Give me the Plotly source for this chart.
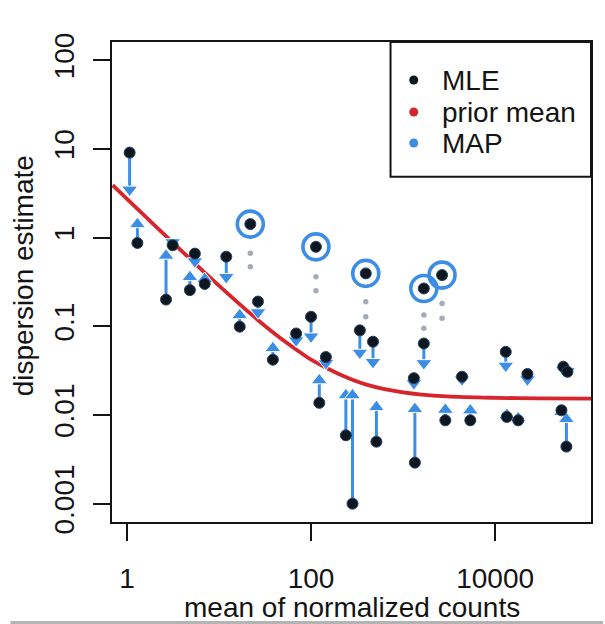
import plotly.graph_objects as go

# ---- gene-wise dispersion data -------------------------------------------
mean_counts = [1.07, 1.30, 3.14, 2.66, 4.83, 5.47, 7.0, 12.0, 16.8, 26.5,
               38.5, 68.9, 100, 123, 145, 239, 282, 339, 471, 513,
               1309, 1343, 1679, 2877, 4365, 5370, 13030, 13390, 17800, 22400,
               55000, 61000, 52500, 59400]
mle = [9.1, 0.87, 0.82, 0.20, 0.256, 0.66, 0.30, 0.61, 0.099, 0.19,
       0.042, 0.083, 0.128, 0.0137, 0.045, 0.0059, 0.001, 0.09, 0.067, 0.005,
       0.026, 0.0029, 0.064, 0.0087, 0.027, 0.0087, 0.0515, 0.0095, 0.0087, 0.029,
       0.035, 0.0307, 0.0113, 0.0044]
map_est = [2.9, 1.7, 0.74, 0.75, 0.43, 0.45, 0.41, 0.30, 0.16, 0.12,
           0.068, 0.058, 0.064, 0.0295, 0.032, 0.02, 0.02, 0.042, 0.033, 0.0147,
           0.019, 0.014, 0.032, 0.0137, 0.021, 0.0135, 0.030, 0.012, 0.011, 0.021,
           0.027, 0.026, 0.013, 0.0108]

# dispersion outliers (kept at their MLE, circled)
out_counts = [21.9, 113, 393, 1679, 2649]
out_mle = [1.42, 0.787, 0.395, 0.267, 0.378]
out_guide_upper = [0.668, 0.361, 0.189, 0.134, 0.181]
out_guide_lower = [0.469, 0.251, 0.128, 0.095, 0.123]

# fitted prior mean trend
trend_x = [0.7, 1, 2, 4, 7, 10, 20, 40, 70, 100, 200, 400, 1000, 3000,
           10000, 30000, 110000]
trend_y = [3.90, 2.74, 1.375, 0.695, 0.404, 0.287, 0.151, 0.083, 0.054, 0.042,
           0.029, 0.022, 0.018, 0.0162, 0.0156, 0.0154, 0.0153]

x_ticks = [1, 100, 10000]
x_ticktext = ["1", "100", "10000"]
y_ticks = [0.001, 0.01, 0.1, 1, 10, 100]
y_ticktext = ["0.001", "0.01", "0.1", "1", "10", "100"]

legend_labels = ["MLE", "prior mean", "MAP"]
x_title = "mean of normalized counts"
y_title = "dispersion estimate"

# ---- styling -------------------------------------------------------------
BLUE = "#3b8de6"
RED = "#d6262b"
DOT = "#0e1620"
INK = "#141414"
FONT = "Liberation Sans, Arial, sans-serif"

W, H = 605, 624
ML, MR, MT, MB = 112, 12, 42, 102
PW, PH = W - ML - MR, H - MT - MB
HEAD = 14  # arrowhead size in px


def px(xp):
    return (xp - ML) / PW


def py(yp):
    return (H - MB - yp) / PH


fig = go.Figure()

# prior mean curve
fig.add_trace(go.Scatter(
    x=trend_x, y=trend_y, mode="lines",
    line=dict(color=RED, width=3.8, shape="spline", smoothing=0.8),
    hoverinfo="skip", showlegend=False))

# shrinkage arrows MLE -> MAP (triangle heads with tips on the MAP value)
ax, ay, sym, size, opac = [], [], [], [], []
for c, a, b in zip(mean_counts, mle, map_est):
    ax += [c, c, None]
    ay += [a, b, None]
    sym += ["circle", "triangle-up", "circle"]
    size += [0, HEAD, 0]
    opac += [0, 1, 0]
fig.add_trace(go.Scatter(
    x=ax, y=ay, mode="lines+markers",
    line=dict(color=BLUE, width=3, backoff=5),
    marker=dict(symbol=sym, size=size, opacity=opac, color=BLUE,
                angleref="previous", standoff=HEAD / 2),
    hoverinfo="skip", showlegend=False, connectgaps=False))

# dotted guides beneath outliers
gx, gy = [], []
for c, u, l in zip(out_counts, out_guide_upper, out_guide_lower):
    gx += [c, c]
    gy += [u, l]
fig.add_trace(go.Scatter(
    x=gx, y=gy, mode="markers",
    marker=dict(color="#a3acb6", size=5.5),
    hoverinfo="skip", showlegend=False))

# outlier rings
fig.add_trace(go.Scatter(
    x=out_counts, y=out_mle, mode="markers",
    marker=dict(symbol="circle-open", size=26, color=BLUE,
                line=dict(width=3.6, color=BLUE)),
    hoverinfo="skip", showlegend=False))

# MLE points
fig.add_trace(go.Scatter(
    x=mean_counts + out_counts, y=mle + out_mle, mode="markers",
    marker=dict(color=DOT, size=11, line=dict(width=1, color="#23405f")),
    hoverinfo="skip", showlegend=False))

# ---- legend box ----------------------------------------------------------
shapes = [dict(type="rect", xref="paper", yref="paper",
               x0=px(391.7), x1=1, y0=py(176.7), y1=1,
               fillcolor="white", line=dict(color=INK, width=2), layer="above")]
legend_colors = [DOT, RED, BLUE]
legend_rows = [80, 112, 143]
annotations = []
for lab, col, yr in zip(legend_labels, legend_colors, legend_rows):
    shapes.append(dict(type="circle", xref="paper", yref="paper",
                       xsizemode="pixel", ysizemode="pixel",
                       xanchor=px(415), yanchor=py(yr),
                       x0=-4.5, x1=4.5, y0=-4.5, y1=4.5,
                       fillcolor=col, line=dict(width=0), layer="above"))
    annotations.append(dict(xref="paper", yref="paper", x=px(441), y=py(yr),
                            xanchor="left", yanchor="middle", showarrow=False,
                            text=lab, font=dict(family=FONT, size=28, color=INK)))

# axis titles
annotations.append(dict(xref="paper", yref="paper", x=px(352.5), y=py(590),
                        xanchor="center", yanchor="top", showarrow=False,
                        text=x_title, font=dict(family=FONT, size=28, color=INK)))
annotations.append(dict(xref="paper", yref="paper", x=px(23), y=py(276),
                        xanchor="center", yanchor="middle", showarrow=False,
                        textangle=-90,
                        text=y_title, font=dict(family=FONT, size=28, color=INK)))

# thin grey rule at the bottom edge
shapes.append(dict(type="rect", xref="paper", yref="paper",
                   x0=px(10), x1=px(605), y0=py(624), y1=py(621),
                   fillcolor="#b4b4b4", line=dict(width=0), layer="above"))

axis_common = dict(type="log", showgrid=False, zeroline=False,
                   showline=True, linecolor=INK, linewidth=2, mirror=True,
                   ticks="outside", ticklen=17, tickwidth=2, tickcolor=INK,
                   tickfont=dict(family=FONT, size=28, color=INK))

fig.update_layout(
    width=W, height=H,
    margin=dict(l=ML, r=MR, t=MT, b=MB, pad=0),
    paper_bgcolor="white", plot_bgcolor="white",
    font=dict(family=FONT, color=INK),
    xaxis=dict(axis_common, range=[-0.162, 5.041],
               tickvals=x_ticks, ticktext=x_ticktext, ticklabelstandoff=13),
    yaxis=dict(axis_common, range=[-3.207, 2.206],
               tickvals=y_ticks, ticktext=y_ticktext, tickangle=-90,
               ticklabelstandoff=8),
    shapes=shapes, annotations=annotations,
    showlegend=False,
)

fig.write_html("out.html")
